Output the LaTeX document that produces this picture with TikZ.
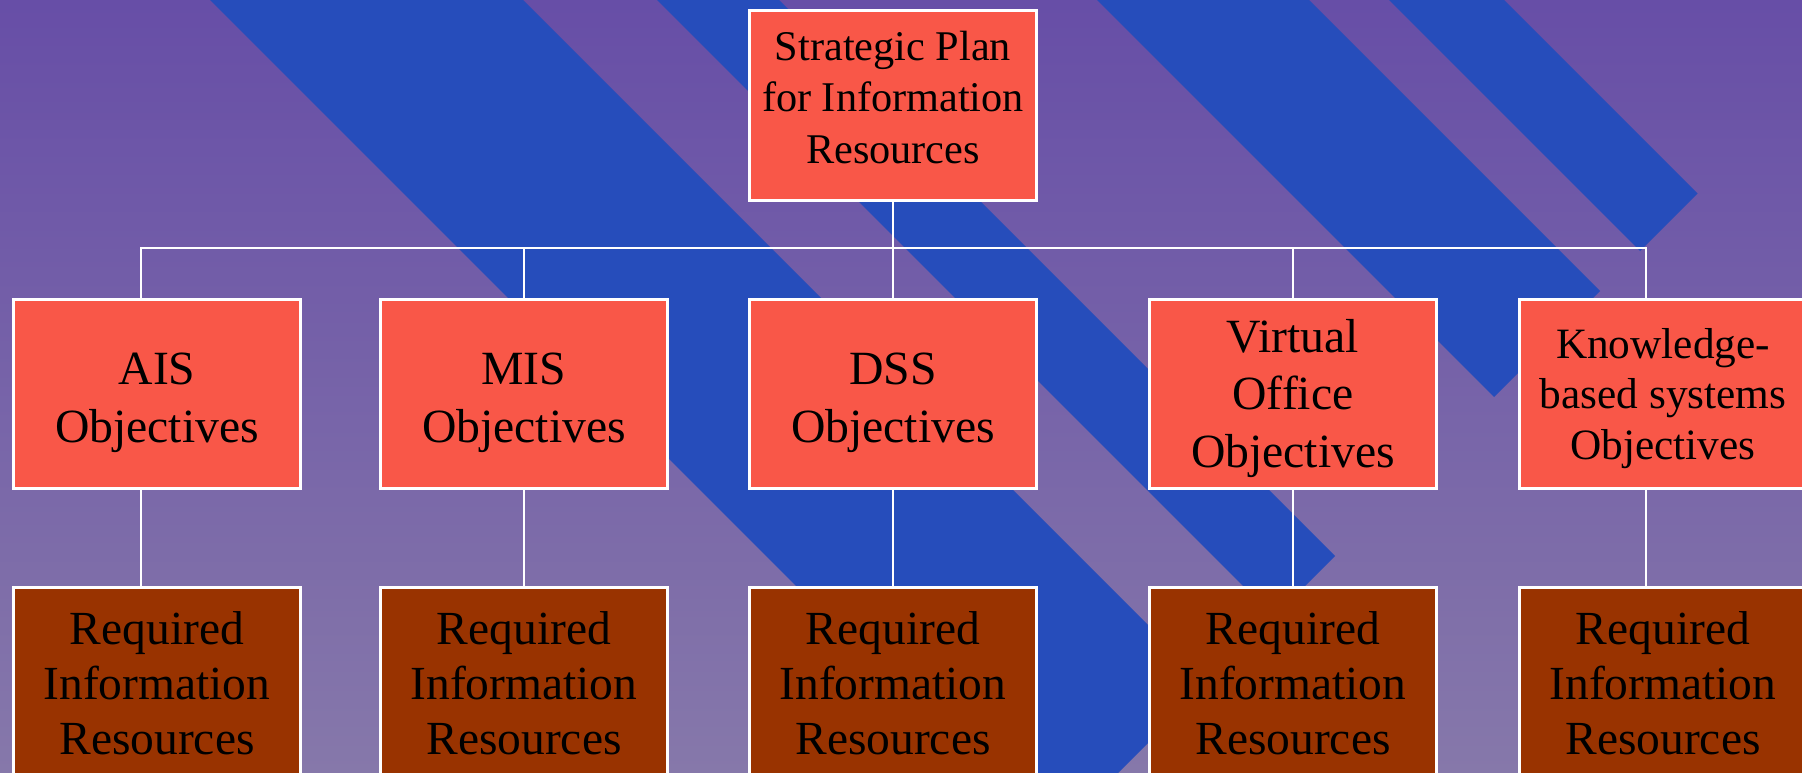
\documentclass[tikz,border=0pt]{standalone}
\usepackage{fontspec}
\setmainfont{Liberation Serif}
\usepackage{tikz}
\usetikzlibrary{positioning, calc}

\definecolor{slidetop}{RGB}{103,78,167}
\definecolor{slidebottom}{RGB}{134,120,170}
\definecolor{stripeblue}{RGB}{38,77,187}
\definecolor{objred}{RGB}{249,87,72}
\definecolor{resbrown}{RGB}{153,51,0}

\begin{document}
\begin{tikzpicture}[x=1pt, y=-1pt, node distance=99pt, auto]
				\tikzstyle{objbox} = [rectangle, draw=white, line width=3pt, fill=objred, minimum width=287pt, minimum height=189pt, inner sep=0pt, outer sep=0pt, align=center, text height=96pt, text depth=0pt, font={\fontsize{47.7}{57.5}\selectfont}]
				\tikzstyle{resbox} = [objbox, fill=resbrown, text height=144pt, font={\fontsize{47.5}{55}\selectfont}]
				\tikzstyle{stripe} = [fill=stripeblue]
				\tikzstyle{link} = [white, line width=2pt]
				
				\useasboundingbox (0,0) rectangle (1802,773);
				\clip (0,0) rectangle (1802,773);
				\shade [top color=slidetop, bottom color=slidebottom] (0,0) rectangle (1802,773);
				\fill [stripe] (200,-10) -- (513,-10) -- (1207,684) -- (1050.5,840.5) -- cycle;
				\fill [stripe] (647,-10) -- (769,-10) -- (1335,556) -- (1274,617) -- cycle;
				\fill [stripe] (1087,-10) -- (1299,-10) -- (1600,291) -- (1494,397) -- cycle;
				\fill [stripe] (1379,-10) -- (1494,-10) -- (1697.5,193.5) -- (1640,251) -- cycle;
				
				\node [objbox, minimum height=190pt, text height=116pt, font={\fontsize{42.3}{51.5}\selectfont}] (plan) at (893,105.5) {Strategic Plan\\for Information\\Resources};
				\node [objbox, below=of plan] (dss) {DSS\\Objectives};
				\node [objbox, left=82pt of dss] (mis) {MIS\\Objectives};
				\node [objbox, left=80pt of mis] (ais) {AIS\\Objectives};
				\node [objbox, right=113pt of dss, text height=146pt] (vo) {Virtual\\Office\\Objectives};
				\node [objbox, right=83pt of vo, text height=130pt, font={\fontsize{43.3}{50.5}\selectfont}] (kbs) {Knowledge-\\based systems\\Objectives};
				
				\node [resbox, below=of ais] (aisres) {Required\\Information\\Resources};
				\node [resbox, below=of mis] (misres) {Required\\Information\\Resources};
				\node [resbox, below=of dss] (dssres) {Required\\Information\\Resources};
				\node [resbox, below=of vo] (vores) {Required\\Information\\Resources};
				\node [resbox, below=of kbs] (kbsres) {Required\\Information\\Resources};
				
				\coordinate (bus) at ($(plan.south)+(0,47.5)$);
				\draw [link] (plan.south) -- (bus);
				\draw [link] ([xshift=-16pt]ais.north) -- ([xshift=-16pt]ais.north |- bus) -- ([xshift=-17pt]kbs.north |- bus) -- ([xshift=-17pt]kbs.north);
				\draw [link] (mis.north |- bus) -- (mis.north);
				\draw [link] (dss.north |- bus) -- (dss.north);
				\draw [link] (vo.north |- bus) -- (vo.north);
				
				\draw [link] ([xshift=-16pt]ais.south) -- ([xshift=-16pt]aisres.north);
				\draw [link] (mis) -- (misres);
				\draw [link] (dss) -- (dssres);
				\draw [link] (vo) -- (vores);
				\draw [link] ([xshift=-17pt]kbs.south) -- ([xshift=-17pt]kbsres.north);
			\end{tikzpicture}
\end{document}
